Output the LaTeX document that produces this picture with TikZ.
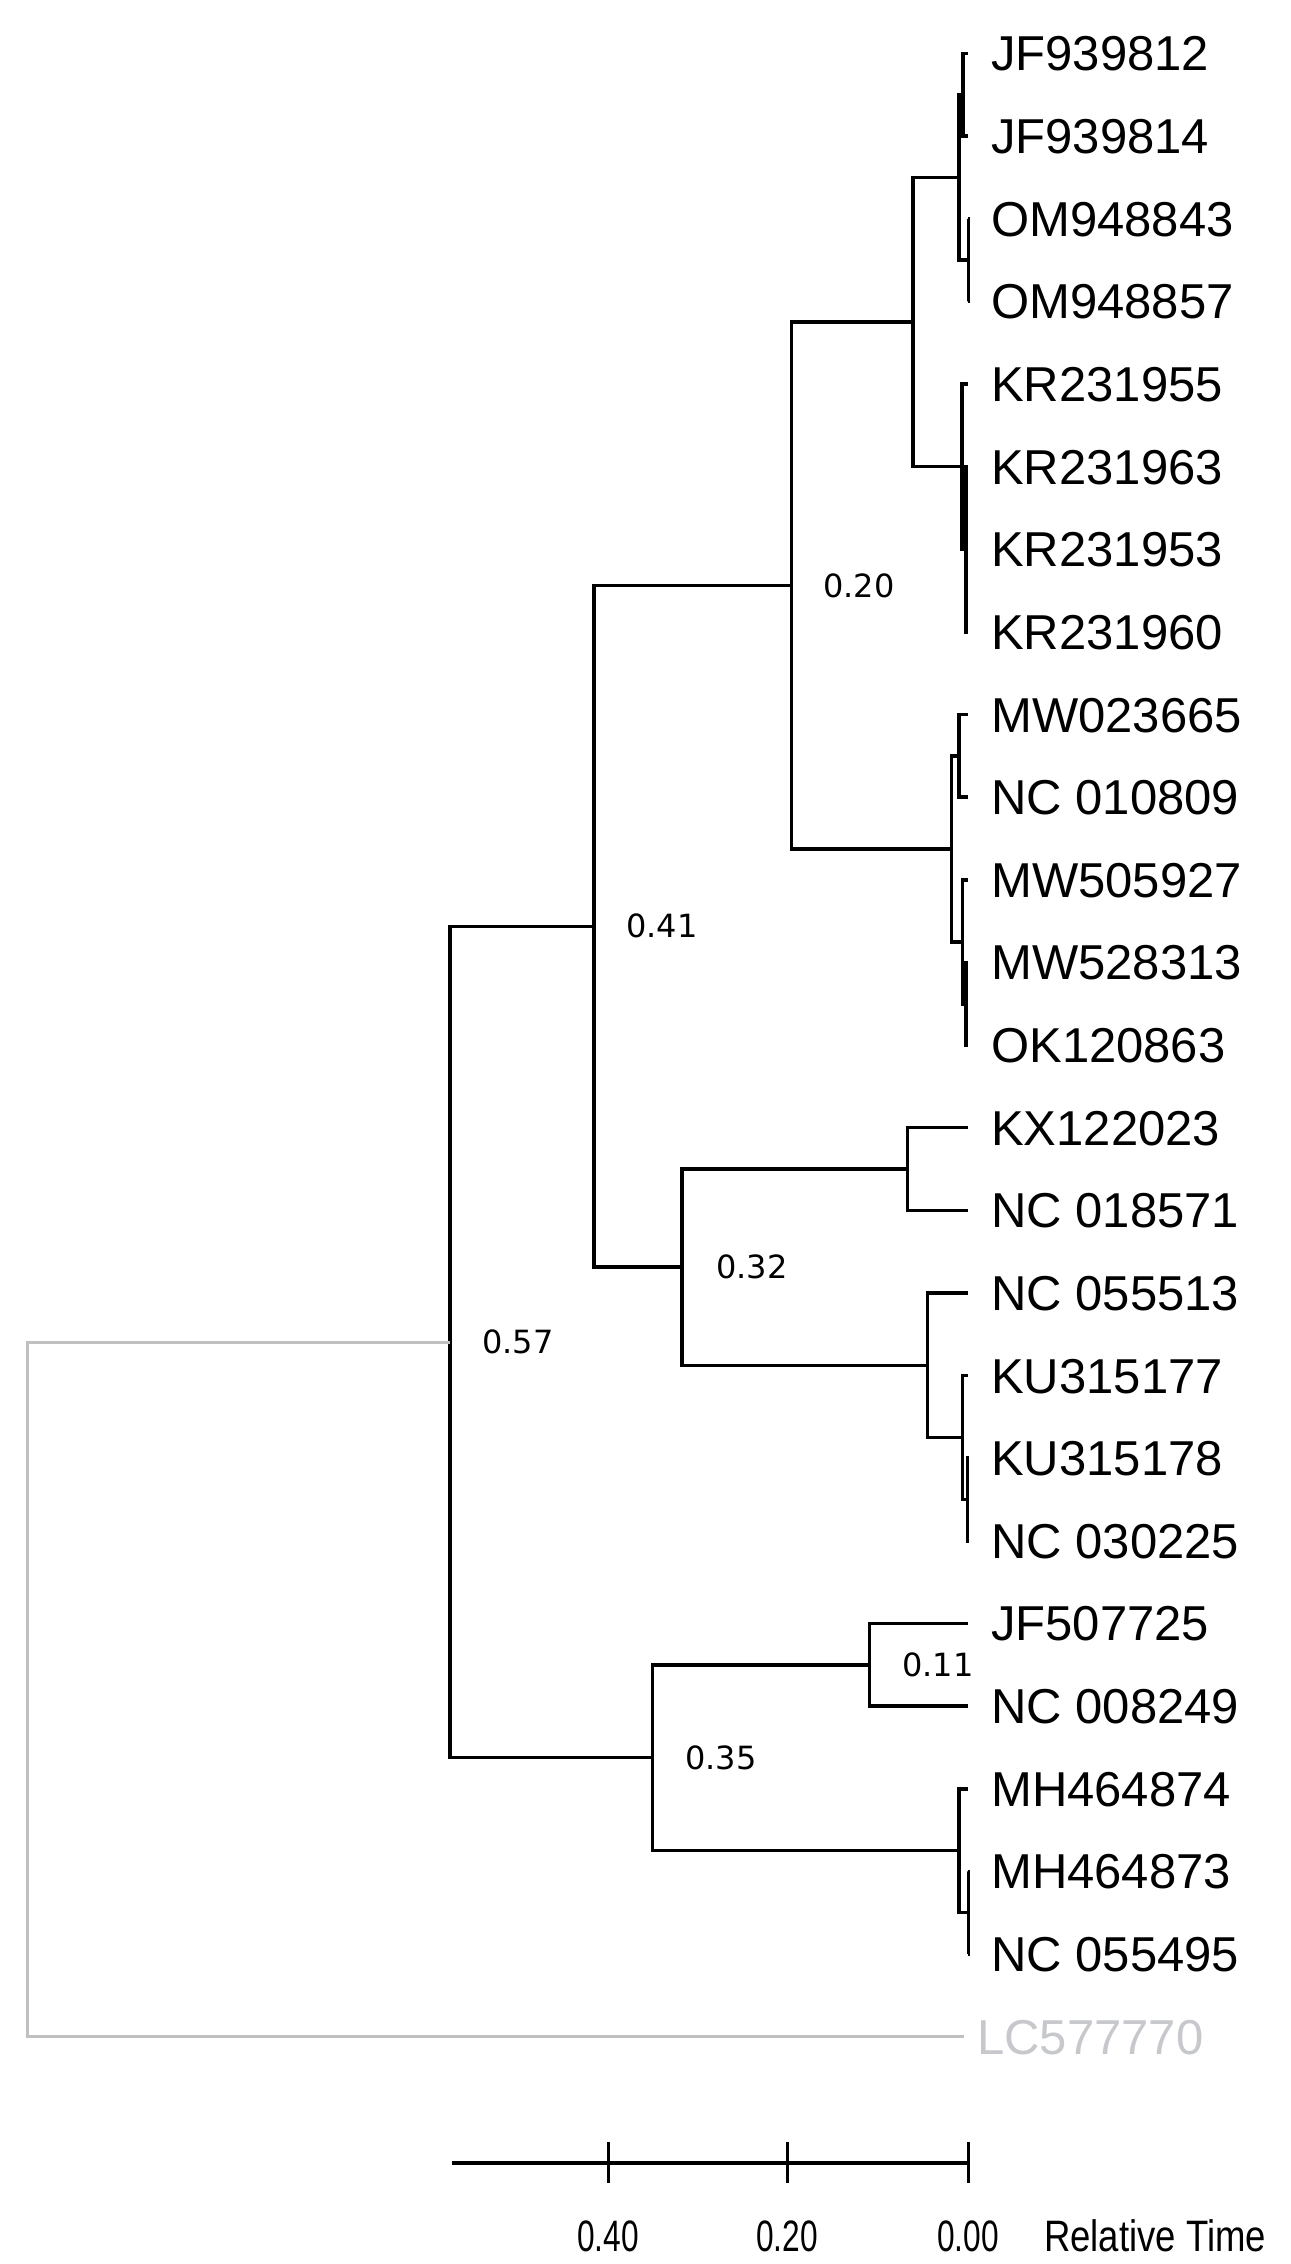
\documentclass[tikz,border=0pt]{standalone}
\usepackage{fontspec}
\setmainfont{Liberation Sans}
\newfontfamily\nodefont{DejaVu Sans}
\usepackage{graphicx}
\definecolor{rootgrey}{RGB}{192,192,192}
\definecolor{lcgrey}{RGB}{198,200,204}
\begin{document}
\begin{tikzpicture}[x=1pt,y=-1pt,
  br/.style={line width=3.5pt, black},
  gbr/.style={line width=3pt, rootgrey},
  leaf/.style={anchor=base west, inner sep=0pt, font=\fontsize{49}{58}\selectfont},
  nlab/.style={anchor=west, inner sep=0pt, font=\nodefont\fontsize{32}{38}\selectfont},
  scl/.style={anchor=center, inner sep=0pt, font=\fontsize{44}{52}\selectfont}]
\fill[white] (0,0) rectangle (1290,2264);
\useasboundingbox (0,0) rectangle (1290,2264);

% tips and labels
\foreach \i/\nm in {0/JF939812,1/JF939814,2/OM948843,3/OM948857,4/KR231955,5/KR231963,6/KR231953,7/KR231960,8/MW023665,9/NC 010809,10/MW505927,11/MW528313,12/OK120863,13/KX122023,14/NC 018571,15/NC 055513,16/KU315177,17/KU315178,18/NC 030225,19/JF507725,20/NC 008249,21/MH464874,22/MH464873,23/NC 055495}{
  \coordinate (t\i) at (968,53.5+82.63*\i);
  \node[leaf] (lab\i) at (991,71+82.63*\i) {\nm};
}
\coordinate (t24) at (964,2036.6);
\node[leaf, text=lcgrey] (lab24) at (977,2054.1) {LC577770};

% internal nodes
\coordinate (JFp) at (963,94.8);
\coordinate (OMp) at (968.5,260.1);
\coordinate (JFOM) at (959,177.4);
\coordinate (K2) at (966,549.3);
\coordinate (K1) at (962,466.7);
\coordinate (JOK) at (913,322.1);
\coordinate (MWp) at (959,755.9);
\coordinate (L2) at (966,1003.8);
\coordinate (L1) at (962.7,941.8);
\coordinate (M0) at (951.7,848.8);
\coordinate (N20) at (791.6,585.4);
\coordinate (KX) at (907.3,1169);
\coordinate (U2) at (967.5,1499.5);
\coordinate (U1) at (962.3,1437.6);
\coordinate (N55) at (927.7,1365.3);
\coordinate (N32) at (682,1267.1);
\coordinate (N41) at (594,926.3);
\coordinate (N11) at (869.5,1664.8);
\coordinate (MHp) at (968.5,1912.7);
\coordinate (MH) at (959,1850.7);
\coordinate (N35) at (652.7,1757.7);
\coordinate (N57) at (450,1342);
\coordinate (root) at (27,1689.3);

% branches
\draw[br] (JFp) |- (t0);  \draw[br] (JFp) |- (t1);
\draw[br] (OMp) |- (t2);  \draw[br] (OMp) |- (t3);
\draw[br] (JFOM) |- (JFp); \draw[br] (JFOM) |- (OMp);
\draw[br] (K2) |- (t5); \draw[br] (K2) |- (t6); \draw[br] (K2) |- (t7);
\draw[br] (K1) |- (t4); \draw[br] (K1) |- (K2);
\draw[br] (JOK) |- (JFOM); \draw[br] (JOK) |- (K1);
\draw[br] (MWp) |- (t8); \draw[br] (MWp) |- (t9);
\draw[br] (L2) |- (t11); \draw[br] (L2) |- (t12);
\draw[br] (L1) |- (t10); \draw[br] (L1) |- (L2);
\draw[br] (M0) |- (MWp); \draw[br] (M0) |- (L1);
\draw[br] (N20) |- (JOK); \draw[br] (N20) |- (M0);
\draw[br] (KX) |- (t13); \draw[br] (KX) |- (t14);
\draw[br] (U2) |- (t17); \draw[br] (U2) |- (t18);
\draw[br] (U1) |- (t16); \draw[br] (U1) |- (U2);
\draw[br] (N55) |- (t15); \draw[br] (N55) |- (U1);
\draw[br] (N32) |- (KX); \draw[br] (N32) |- (N55);
\draw[br] (N41) |- (N20); \draw[br] (N41) |- (N32);
\draw[br] (N11) |- (t19); \draw[br] (N11) |- (t20);
\draw[br] (MHp) |- (t22); \draw[br] (MHp) |- (t23);
\draw[br] (MH) |- (t21); \draw[br] (MH) |- (MHp);
\draw[br] (N35) |- (N11); \draw[br] (N35) |- (MH);
\draw[br] (N57) |- (N41); \draw[br] (N57) |- (N35);
\draw[gbr] (root) |- (N57); \draw[gbr] (root) |- (t24);

% node ages
\node[nlab] (a20) at (823,585.4) {0.20};
\node[nlab] (a41) at (626,926.3) {0.41};
\node[nlab] (a32) at (716,1267.1) {0.32};
\node[nlab] (a57) at (482,1342) {0.57};
\node[nlab] (a35) at (685,1757.7) {0.35};
\node[nlab] (a11) at (902,1664.8) {0.11};

% scale bar
\coordinate (sbL) at (452,2162.6);
\coordinate (sbR) at (968,2162.6);
\draw[line width=4pt] (sbL) -- (sbR);
\draw[line width=3pt] (608,2142) -- (608,2183);
\draw[line width=3pt] (787,2142) -- (787,2183);
\draw[line width=3pt] (968,2142) -- (968,2183);
\node[scl] (s40) at (608,2236) {\scalebox{0.72}[1]{0.40}};
\node[scl] (s20) at (787,2236) {\scalebox{0.72}[1]{0.20}};
\node[scl] (s00) at (968,2236) {\scalebox{0.72}[1]{0.00}};
\node[scl] (srt) at (1155,2236) {\scalebox{0.83}[1]{Relative Time}};
\end{tikzpicture}
\end{document}
